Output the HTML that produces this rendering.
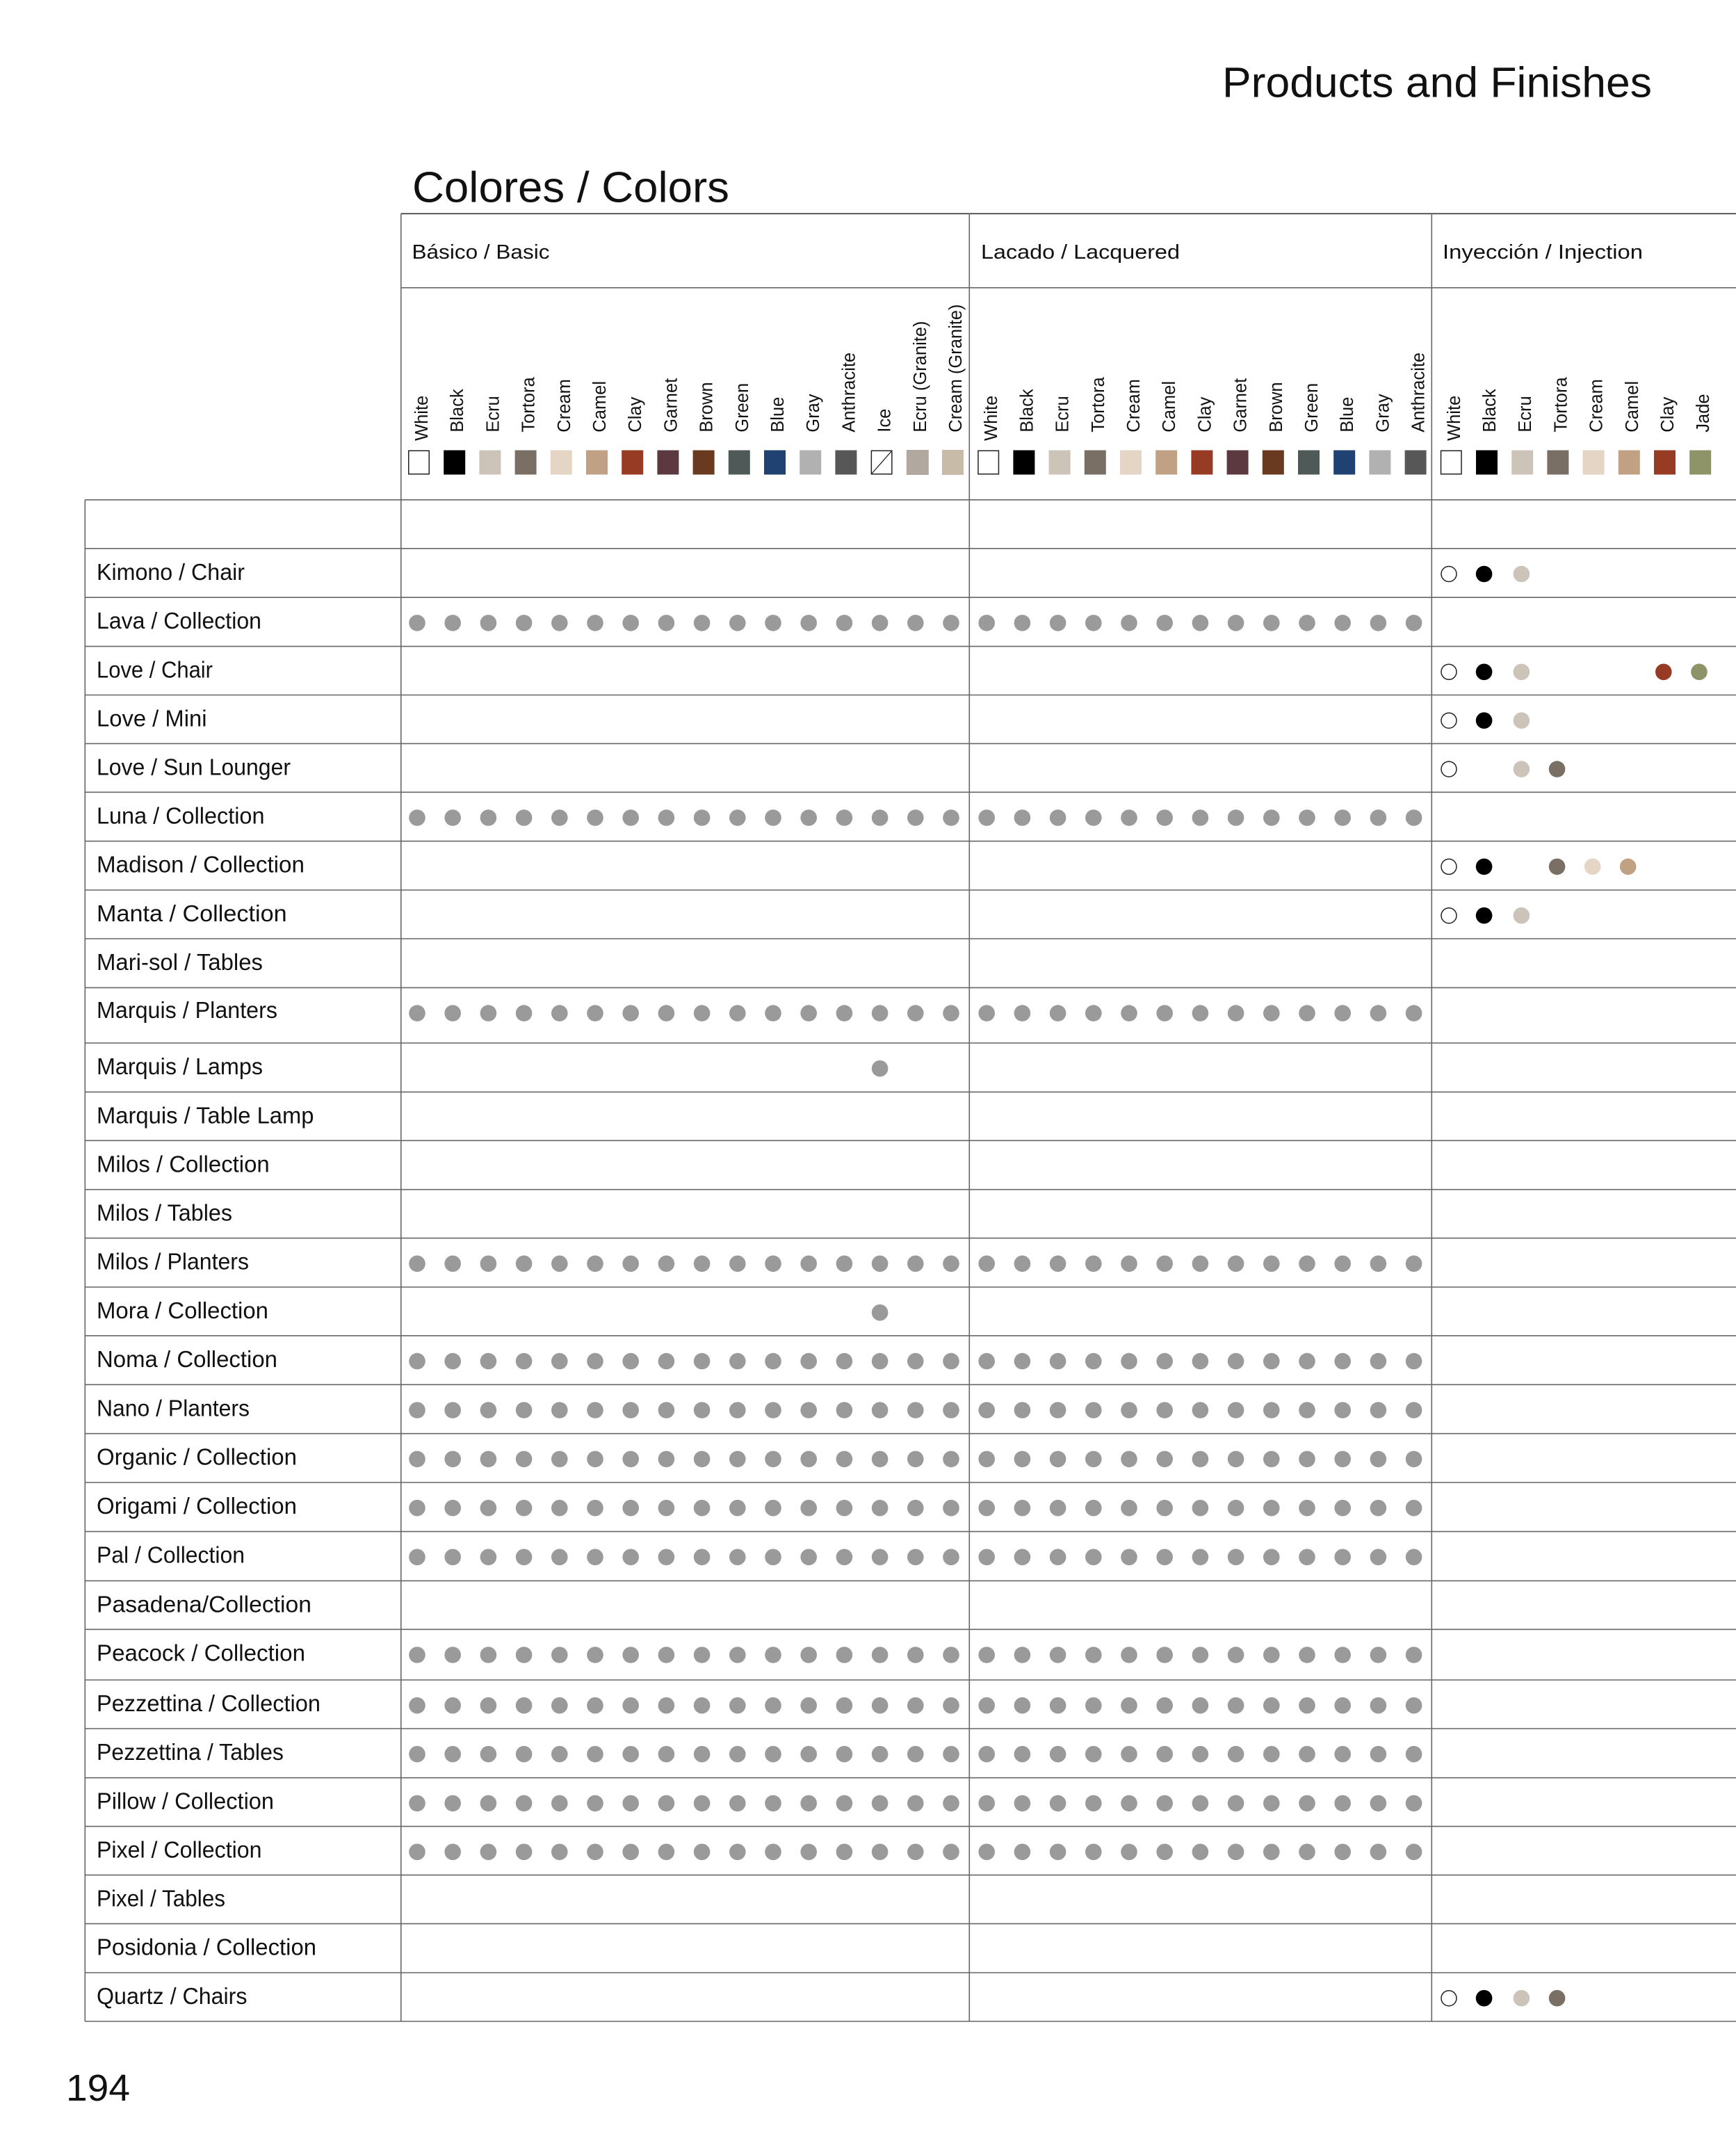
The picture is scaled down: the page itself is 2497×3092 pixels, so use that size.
<!DOCTYPE html>
<html>
<head>
<meta charset="utf-8">
<style>
html,body{margin:0;padding:0;background:#fff;}
svg{display:block;}
text{font-family:"Liberation Sans",Arial,sans-serif;fill:#111;}
</style>
</head>
<body>
<svg width="2497" height="3092" viewBox="0 0 2497 3092" xmlns="http://www.w3.org/2000/svg">
<defs>
<g id="r29" fill="#9a9a9a">
<circle cx="600" cy="0" r="11.8"/><circle cx="651.2" cy="0" r="11.8"/><circle cx="702.4" cy="0" r="11.8"/><circle cx="753.6" cy="0" r="11.8"/><circle cx="804.8" cy="0" r="11.8"/><circle cx="856" cy="0" r="11.8"/><circle cx="907.2" cy="0" r="11.8"/><circle cx="958.4" cy="0" r="11.8"/><circle cx="1009.6" cy="0" r="11.8"/><circle cx="1060.8" cy="0" r="11.8"/><circle cx="1112" cy="0" r="11.8"/><circle cx="1163.2" cy="0" r="11.8"/><circle cx="1214.4" cy="0" r="11.8"/><circle cx="1265.6" cy="0" r="11.8"/><circle cx="1316.8" cy="0" r="11.8"/><circle cx="1368" cy="0" r="11.8"/>
<circle cx="1419.2" cy="0" r="11.8"/><circle cx="1470.4" cy="0" r="11.8"/><circle cx="1521.6" cy="0" r="11.8"/><circle cx="1572.8" cy="0" r="11.8"/><circle cx="1624" cy="0" r="11.8"/><circle cx="1675.2" cy="0" r="11.8"/><circle cx="1726.4" cy="0" r="11.8"/><circle cx="1777.6" cy="0" r="11.8"/><circle cx="1828.8" cy="0" r="11.8"/><circle cx="1880" cy="0" r="11.8"/><circle cx="1931.2" cy="0" r="11.8"/><circle cx="1982.4" cy="0" r="11.8"/><circle cx="2033.6" cy="0" r="11.8"/>
</g>
</defs>

<!-- Titles -->
<text x="1758" y="139.3" font-size="61" textLength="618" lengthAdjust="spacingAndGlyphs">Products and Finishes</text>
<text x="593" y="290.7" font-size="62" textLength="456" lengthAdjust="spacingAndGlyphs">Colores / Colors</text>

<!-- Group headers -->
<text x="592.5" y="372" font-size="28.5" textLength="198" lengthAdjust="spacingAndGlyphs">Básico / Basic</text>
<text x="1411" y="372" font-size="28.5" textLength="286" lengthAdjust="spacingAndGlyphs">Lacado / Lacquered</text>
<text x="2075" y="372" font-size="28.5" textLength="288" lengthAdjust="spacingAndGlyphs">Inyección / Injection</text>

<!-- Lines -->
<g stroke="#666" stroke-width="1.6" fill="none">
<line x1="576.8" y1="307.3" x2="2497" y2="307.3" stroke="#333"/>
<line x1="576.8" y1="413.8" x2="2497" y2="413.8"/>
<line x1="122.3" y1="718.8" x2="2497" y2="718.8"/>
<line x1="122.3" y1="788.8" x2="2497" y2="788.8"/>
<line x1="122.3" y1="859.2" x2="2497" y2="859.2"/>
<line x1="122.3" y1="929.6" x2="2497" y2="929.6"/>
<line x1="122.3" y1="999.5" x2="2497" y2="999.5"/>
<line x1="122.3" y1="1069.4" x2="2497" y2="1069.4"/>
<line x1="122.3" y1="1139.3" x2="2497" y2="1139.3"/>
<line x1="122.3" y1="1209.7" x2="2497" y2="1209.7"/>
<line x1="122.3" y1="1280" x2="2497" y2="1280"/>
<line x1="122.3" y1="1350" x2="2497" y2="1350"/>
<line x1="122.3" y1="1420.4" x2="2497" y2="1420.4"/>
<line x1="122.3" y1="1500" x2="2497" y2="1500"/>
<line x1="122.3" y1="1570.4" x2="2497" y2="1570.4"/>
<line x1="122.3" y1="1640.3" x2="2497" y2="1640.3"/>
<line x1="122.3" y1="1710.7" x2="2497" y2="1710.7"/>
<line x1="122.3" y1="1780.6" x2="2497" y2="1780.6"/>
<line x1="122.3" y1="1851" x2="2497" y2="1851"/>
<line x1="122.3" y1="1920.9" x2="2497" y2="1920.9"/>
<line x1="122.3" y1="1991.3" x2="2497" y2="1991.3"/>
<line x1="122.3" y1="2061.7" x2="2497" y2="2061.7"/>
<line x1="122.3" y1="2132" x2="2497" y2="2132"/>
<line x1="122.3" y1="2202.6" x2="2497" y2="2202.6"/>
<line x1="122.3" y1="2273.4" x2="2497" y2="2273.4"/>
<line x1="122.3" y1="2343.3" x2="2497" y2="2343.3"/>
<line x1="122.3" y1="2416" x2="2497" y2="2416"/>
<line x1="122.3" y1="2486" x2="2497" y2="2486"/>
<line x1="122.3" y1="2556.7" x2="2497" y2="2556.7"/>
<line x1="122.3" y1="2626.6" x2="2497" y2="2626.6"/>
<line x1="122.3" y1="2696.6" x2="2497" y2="2696.6"/>
<line x1="122.3" y1="2766.6" x2="2497" y2="2766.6"/>
<line x1="122.3" y1="2837" x2="2497" y2="2837"/>
<line x1="122.3" y1="2907" x2="2497" y2="2907"/>
<line x1="122.3" y1="718.8" x2="122.3" y2="2907"/>
<line x1="576.8" y1="307.3" x2="576.8" y2="2907"/>
<line x1="1394.3" y1="307.3" x2="1394.3" y2="2907"/>
<line x1="2059.3" y1="307.3" x2="2059.3" y2="2907"/>
</g>

<!-- Rotated colour labels -->
<g font-size="25.5">
<text transform="translate(615,634) rotate(-90)">White</text>
<text transform="translate(666.2,621.7) rotate(-90)">Black</text>
<text transform="translate(717.4,621.7) rotate(-90)">Ecru</text>
<text transform="translate(768.6,621.7) rotate(-90)">Tortora</text>
<text transform="translate(819.8,621.7) rotate(-90)">Cream</text>
<text transform="translate(871,621.7) rotate(-90)">Camel</text>
<text transform="translate(922.2,621.7) rotate(-90)">Clay</text>
<text transform="translate(973.4,621.7) rotate(-90)">Garnet</text>
<text transform="translate(1024.6,621.7) rotate(-90)">Brown</text>
<text transform="translate(1075.8,621.7) rotate(-90)">Green</text>
<text transform="translate(1127,621.7) rotate(-90)">Blue</text>
<text transform="translate(1178.2,621.7) rotate(-90)">Gray</text>
<text transform="translate(1229.4,621.7) rotate(-90)">Anthracite</text>
<text transform="translate(1280.6,621.7) rotate(-90)">Ice</text>
<text transform="translate(1331.8,621.7) rotate(-90)">Ecru (Granite)</text>
<text transform="translate(1383,621.7) rotate(-90)">Cream (Granite)</text>

<text transform="translate(1434.2,634) rotate(-90)">White</text>
<text transform="translate(1485.4,621.7) rotate(-90)">Black</text>
<text transform="translate(1536.6,621.7) rotate(-90)">Ecru</text>
<text transform="translate(1587.8,621.7) rotate(-90)">Tortora</text>
<text transform="translate(1639,621.7) rotate(-90)">Cream</text>
<text transform="translate(1690.2,621.7) rotate(-90)">Camel</text>
<text transform="translate(1741.4,621.7) rotate(-90)">Clay</text>
<text transform="translate(1792.6,621.7) rotate(-90)">Garnet</text>
<text transform="translate(1843.8,621.7) rotate(-90)">Brown</text>
<text transform="translate(1895,621.7) rotate(-90)">Green</text>
<text transform="translate(1946.2,621.7) rotate(-90)">Blue</text>
<text transform="translate(1997.4,621.7) rotate(-90)">Gray</text>
<text transform="translate(2048.6,621.7) rotate(-90)">Anthracite</text>

<text transform="translate(2099.8,634) rotate(-90)">White</text>
<text transform="translate(2151,621.7) rotate(-90)">Black</text>
<text transform="translate(2202.2,621.7) rotate(-90)">Ecru</text>
<text transform="translate(2253.4,621.7) rotate(-90)">Tortora</text>
<text transform="translate(2304.6,621.7) rotate(-90)">Cream</text>
<text transform="translate(2355.8,621.7) rotate(-90)">Camel</text>
<text transform="translate(2407,621.7) rotate(-90)">Clay</text>
<text transform="translate(2458.2,621.7) rotate(-90)">Jade</text>
</g>

<!-- Swatches -->
<g>
<rect x="587.75" y="648.25" width="29.5" height="33.5" fill="#fff" stroke="#222" stroke-width="1.5"/>
<rect x="638.2" y="647.5" width="31" height="35" fill="#000"/>
<rect x="689.4" y="647.5" width="31" height="35" fill="#ccc3b9"/>
<rect x="740.6" y="647.5" width="31" height="35" fill="#7a6f65"/>
<rect x="791.8" y="647.5" width="31" height="35" fill="#e5d5c4"/>
<rect x="843" y="647.5" width="31" height="35" fill="#c0a183"/>
<rect x="894.2" y="647.5" width="31" height="35" fill="#983b24"/>
<rect x="945.4" y="647.5" width="31" height="35" fill="#5c3841"/>
<rect x="996.6" y="647.5" width="31" height="35" fill="#693a1f"/>
<rect x="1047.8" y="647.5" width="31" height="35" fill="#4e5958"/>
<rect x="1099" y="647.5" width="31" height="35" fill="#1f4273"/>
<rect x="1150.2" y="647.5" width="31" height="35" fill="#b1b1b1"/>
<rect x="1201.4" y="647.5" width="31" height="35" fill="#575757"/>
<rect x="1253.35" y="648.25" width="29.5" height="33.5" fill="#fff" stroke="#222" stroke-width="1.5"/>
<line x1="1253.35" y1="681.75" x2="1282.85" y2="648.25" stroke="#222" stroke-width="1.3"/>
<rect x="1303.8" y="647" width="32" height="36" fill="#b1a9a0"/>
<rect x="1355" y="647" width="31" height="36" fill="#c8bca9"/>

<rect x="1406.95" y="648.25" width="29.5" height="33.5" fill="#fff" stroke="#222" stroke-width="1.5"/>
<rect x="1457.4" y="647.5" width="31" height="35" fill="#000"/>
<rect x="1508.6" y="647.5" width="31" height="35" fill="#ccc3b9"/>
<rect x="1559.8" y="647.5" width="31" height="35" fill="#7a6f65"/>
<rect x="1611" y="647.5" width="31" height="35" fill="#e5d5c4"/>
<rect x="1662.2" y="647.5" width="31" height="35" fill="#c0a183"/>
<rect x="1713.4" y="647.5" width="31" height="35" fill="#983b24"/>
<rect x="1764.6" y="647.5" width="31" height="35" fill="#5c3841"/>
<rect x="1815.8" y="647.5" width="31" height="35" fill="#693a1f"/>
<rect x="1867" y="647.5" width="31" height="35" fill="#4e5958"/>
<rect x="1918.2" y="647.5" width="31" height="35" fill="#1f4273"/>
<rect x="1969.4" y="647.5" width="31" height="35" fill="#b1b1b1"/>
<rect x="2020.6" y="647.5" width="31" height="35" fill="#575757"/>

<rect x="2072.55" y="648.25" width="29.5" height="33.5" fill="#fff" stroke="#222" stroke-width="1.5"/>
<rect x="2123" y="647.5" width="31" height="35" fill="#000"/>
<rect x="2174.2" y="647.5" width="31" height="35" fill="#ccc3b9"/>
<rect x="2225.4" y="647.5" width="31" height="35" fill="#7a6f65"/>
<rect x="2276.6" y="647.5" width="31" height="35" fill="#e5d5c4"/>
<rect x="2327.8" y="647.5" width="31" height="35" fill="#c0a183"/>
<rect x="2379" y="647.5" width="31" height="35" fill="#983b24"/>
<rect x="2430.2" y="647.5" width="31" height="35" fill="#8f9368"/>
</g>

<!-- Row labels -->
<g font-size="33">
<text x="139" y="833.8" textLength="213" lengthAdjust="spacingAndGlyphs">Kimono / Chair</text>
<text x="139" y="904.2" textLength="237" lengthAdjust="spacingAndGlyphs">Lava / Collection</text>
<text x="139" y="974.6" textLength="167" lengthAdjust="spacingAndGlyphs">Love / Chair</text>
<text x="139" y="1044.5" textLength="158.5" lengthAdjust="spacingAndGlyphs">Love / Mini</text>
<text x="139" y="1114.4" textLength="279" lengthAdjust="spacingAndGlyphs">Love / Sun Lounger</text>
<text x="139" y="1184.3" textLength="241.5" lengthAdjust="spacingAndGlyphs">Luna / Collection</text>
<text x="139" y="1254.7" textLength="299" lengthAdjust="spacingAndGlyphs">Madison / Collection</text>
<text x="139" y="1325" textLength="273.6" lengthAdjust="spacingAndGlyphs">Manta / Collection</text>
<text x="139" y="1395" textLength="239" lengthAdjust="spacingAndGlyphs">Mari-sol / Tables</text>
<text x="139" y="1464" textLength="260" lengthAdjust="spacingAndGlyphs">Marquis / Planters</text>
<text x="139" y="1545" textLength="239" lengthAdjust="spacingAndGlyphs">Marquis / Lamps</text>
<text x="139" y="1615.4" textLength="312.5" lengthAdjust="spacingAndGlyphs">Marquis / Table Lamp</text>
<text x="139" y="1685.3" textLength="248.7" lengthAdjust="spacingAndGlyphs">Milos / Collection</text>
<text x="139" y="1755.7" textLength="195" lengthAdjust="spacingAndGlyphs">Milos / Tables</text>
<text x="139" y="1825.6" textLength="219" lengthAdjust="spacingAndGlyphs">Milos / Planters</text>
<text x="139" y="1896" textLength="247" lengthAdjust="spacingAndGlyphs">Mora / Collection</text>
<text x="139" y="1965.9" textLength="260" lengthAdjust="spacingAndGlyphs">Noma / Collection</text>
<text x="139" y="2036.3" textLength="220" lengthAdjust="spacingAndGlyphs">Nano / Planters</text>
<text x="139" y="2106.7" textLength="288" lengthAdjust="spacingAndGlyphs">Organic / Collection</text>
<text x="139" y="2177" textLength="288" lengthAdjust="spacingAndGlyphs">Origami / Collection</text>
<text x="139" y="2247.6" textLength="213" lengthAdjust="spacingAndGlyphs">Pal / Collection</text>
<text x="139" y="2318.4" textLength="309" lengthAdjust="spacingAndGlyphs">Pasadena/Collection</text>
<text x="139" y="2388.3" textLength="300" lengthAdjust="spacingAndGlyphs">Peacock / Collection</text>
<text x="139" y="2461" textLength="322" lengthAdjust="spacingAndGlyphs">Pezzettina / Collection</text>
<text x="139" y="2531" textLength="269" lengthAdjust="spacingAndGlyphs">Pezzettina / Tables</text>
<text x="139" y="2601.7" textLength="255" lengthAdjust="spacingAndGlyphs">Pillow / Collection</text>
<text x="139" y="2671.6" textLength="237.5" lengthAdjust="spacingAndGlyphs">Pixel / Collection</text>
<text x="139" y="2741.6" textLength="185" lengthAdjust="spacingAndGlyphs">Pixel / Tables</text>
<text x="139" y="2811.6" textLength="316" lengthAdjust="spacingAndGlyphs">Posidonia / Collection</text>
<text x="139" y="2882" textLength="216.5" lengthAdjust="spacingAndGlyphs">Quartz / Chairs</text>
</g>

<!-- Full dot rows (Basic + Lacquered) -->
<use href="#r29" y="895.9"/>
<use href="#r29" y="1176"/>
<use href="#r29" y="1457.1"/>
<use href="#r29" y="1817.3"/>
<use href="#r29" y="1957.6"/>
<use href="#r29" y="2028"/>
<use href="#r29" y="2098.4"/>
<use href="#r29" y="2168.7"/>
<use href="#r29" y="2239.3"/>
<use href="#r29" y="2380"/>
<use href="#r29" y="2452.7"/>
<use href="#r29" y="2522.7"/>
<use href="#r29" y="2593.4"/>
<use href="#r29" y="2663.3"/>

<!-- Single Ice dots -->
<circle cx="1265.6" cy="1536.7" r="11.8" fill="#9a9a9a"/>
<circle cx="1265.6" cy="1887.7" r="11.8" fill="#9a9a9a"/>

<!-- Injection dots -->
<g>
<!-- Kimono -->
<circle cx="2084" cy="825.5" r="11" fill="#fff" stroke="#222" stroke-width="1.5"/>
<circle cx="2134.6" cy="825.5" r="11.8" fill="#000"/>
<circle cx="2188.4" cy="825.5" r="11.8" fill="#ccc3b9"/>
<!-- Love / Chair -->
<circle cx="2084" cy="966.3" r="11" fill="#fff" stroke="#222" stroke-width="1.5"/>
<circle cx="2134.6" cy="966.3" r="11.8" fill="#000"/>
<circle cx="2188.4" cy="966.3" r="11.8" fill="#ccc3b9"/>
<circle cx="2392.8" cy="966.3" r="11.8" fill="#983b24"/>
<circle cx="2444" cy="966.3" r="11.8" fill="#8f9368"/>
<!-- Love / Mini -->
<circle cx="2084" cy="1036.2" r="11" fill="#fff" stroke="#222" stroke-width="1.5"/>
<circle cx="2134.6" cy="1036.2" r="11.8" fill="#000"/>
<circle cx="2188.4" cy="1036.2" r="11.8" fill="#ccc3b9"/>
<!-- Love / Sun Lounger -->
<circle cx="2084" cy="1106.1" r="11" fill="#fff" stroke="#222" stroke-width="1.5"/>
<circle cx="2188.4" cy="1106.1" r="11.8" fill="#ccc3b9"/>
<circle cx="2239.6" cy="1106.1" r="11.8" fill="#7a6f65"/>
<!-- Madison -->
<circle cx="2084" cy="1246.4" r="11" fill="#fff" stroke="#222" stroke-width="1.5"/>
<circle cx="2134.6" cy="1246.4" r="11.8" fill="#000"/>
<circle cx="2239.6" cy="1246.4" r="11.8" fill="#7a6f65"/>
<circle cx="2290.7" cy="1246.4" r="11.8" fill="#e5d5c4"/>
<circle cx="2341.7" cy="1246.4" r="11.8" fill="#c0a183"/>
<!-- Manta -->
<circle cx="2084" cy="1316.7" r="11" fill="#fff" stroke="#222" stroke-width="1.5"/>
<circle cx="2134.6" cy="1316.7" r="11.8" fill="#000"/>
<circle cx="2188.4" cy="1316.7" r="11.8" fill="#ccc3b9"/>
<!-- Quartz -->
<circle cx="2084" cy="2873.7" r="11" fill="#fff" stroke="#222" stroke-width="1.5"/>
<circle cx="2134.6" cy="2873.7" r="11.8" fill="#000"/>
<circle cx="2188.4" cy="2873.7" r="11.8" fill="#ccc3b9"/>
<circle cx="2239.6" cy="2873.7" r="11.8" fill="#7a6f65"/>
</g>

<!-- Page number -->
<text x="95" y="3021" font-size="54" textLength="92" lengthAdjust="spacingAndGlyphs">194</text>
</svg>
</body>
</html>
